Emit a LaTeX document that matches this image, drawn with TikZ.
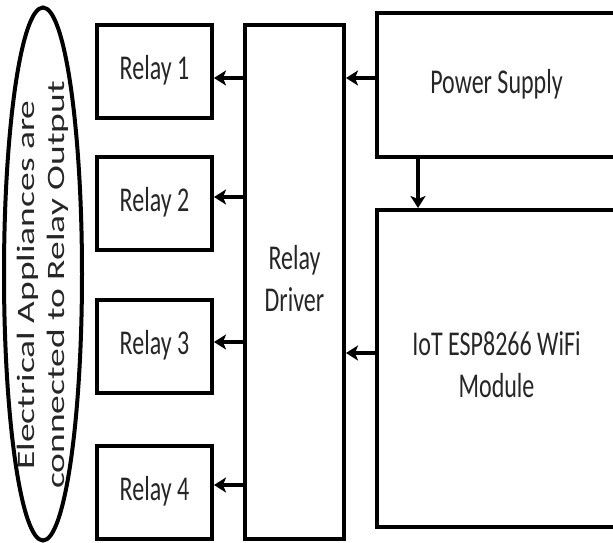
\documentclass[tikz,border=0pt]{standalone}
\usepackage{fontspec}
\setmainfont{Carlito}
\usetikzlibrary{arrows.meta,shapes.geometric}
\newcommand\vtext[1]{\scalebox{1}[1.45]{\begin{tabular}{@{}c@{}}#1\end{tabular}}}
\tikzset{
  blk/.style={draw, line width=4pt, inner sep=0pt, text=black!85, font=\fontsize{24}{29}\selectfont},
  arr/.style={line width=3.5pt, -{Stealth[length=12pt,width=15pt,inset=3pt]}}
}
\begin{document}
\begin{tikzpicture}[x=1pt,y=-1pt]
    \useasboundingbox (0,0) rectangle (613,542);
    \node[draw, ellipse, line width=4pt, minimum width=78pt, minimum height=533pt, inner sep=0pt] (app) at (43,274) {};
    \node[rotate=90, text=black!85, font=\fontsize{25}{30}\selectfont] (applbl) at (43,285)
        {\scalebox{1.5}[1]{\begin{tabular}{@{}c@{}}Electrical Appliances are\\connected to Relay Output\end{tabular}}};
    \foreach \n/\y in {1/71.5,2/203.5,3/346.5,4/492.5}
        \node[blk, minimum width=115pt, minimum height=93pt] (r\n) at (154.5,\y) {\vtext{Relay \n}};
    \node[blk, minimum width=99pt, minimum height=514pt] (drv) at (294.5,282) {\vtext{Relay\\Driver}};
    \node[blk, minimum width=239pt, minimum height=144pt] (ps) at (496.5,85) {\vtext{Power Supply}};
    \node[blk, minimum width=239pt, minimum height=317pt] (wifi) at (496.5,368.5) {\vtext{IoT ESP8266 WiFi\\Module}};
    % connectors
    \foreach \n/\dy in {1/-6.5,2/6.5,3/4.5,4/7.5}
        \draw[arr] ([yshift=\dy pt]r\n.east -| drv.west) -- ([yshift=\dy pt]r\n.east);
    \draw[arr] ([yshift=7pt]ps.west) -- ([yshift=7pt]ps.west -| drv.east);
    \draw[arr] ([yshift=15.5pt]wifi.west) -- ([yshift=15.5pt]wifi.west -| drv.east);
    \draw[arr] ([xshift=-78.5pt]ps.south) -- ([xshift=-78.5pt]ps.south |- wifi.north);
\end{tikzpicture}
\end{document}
